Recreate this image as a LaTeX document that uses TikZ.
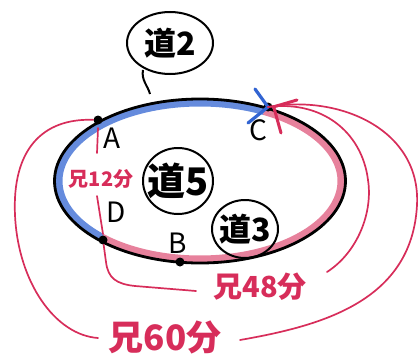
\documentclass[tikz,border=0pt]{standalone}
\usepackage{fontspec}
\newfontfamily\cjk{Noto Sans CJK JP}
\usetikzlibrary{calc}
\definecolor{hblue}{RGB}{50,100,210}
\definecolor{hred}{RGB}{215,45,90}
\begin{document}
\begin{tikzpicture}[x=1pt,y=-1pt,
  dotpt/.style={circle,fill=black,inner sep=0pt,minimum size=9pt},
  letter/.style={font=\cjk\fontsize{28}{28}\selectfont,inner sep=0pt},
  roadtxt/.style={inner sep=0pt},
  redtxt/.style={text=hred,inner sep=0pt},
  redl/.style={hred,line width=1.7pt,line cap=round},
  ring/.style={draw,line width=2pt}]
\useasboundingbox (0,0) rectangle (420,361);
% coloured bands
\draw[hblue,line width=7pt,opacity=0.75] plot[domain=63:226,samples=80] ({200+141*cos(\x)},{181-78*sin(\x)});
\draw[hred,line width=7pt,opacity=0.6] plot[domain=226:423,samples=100] ({200+141*cos(\x)},{181-78*sin(\x)});
% main ellipse
\draw[line width=2.8pt] (200,181) ellipse [x radius=145.5, y radius=82];
% points
\node[dotpt] (A) at (98,120) {};
\node[dotpt] (C) at (268,107) {};
\node[dotpt] (D) at (103,240) {};
\node[dotpt] (B) at (180,262) {};
\node[letter] (lA) at (112,138) {A};
\node[letter] (lC) at (258,130) {C};
\node[letter] (lD) at (116,212) {D};
\node[letter] (lB) at (178,243) {B};
% blue arrow tip at C
\draw[hblue,line width=3.2pt,line cap=round] (C.center) -- (255,89);
\draw[hblue,line width=3.2pt,line cap=round] (C.center) -- (248,123);
% road labels
\node[roadtxt,font=\cjk\bfseries\fontsize{32}{32}\selectfont] (r2) at (170,43) {道2};
\draw[ring] (170,43) ellipse [x radius=43, y radius=31];
\coordinate (t1) at (143,70);
\coordinate (t2) at (150,94);
\draw[line width=2pt] (t1) .. controls (141,80) and (148,86) .. (t2);
\node[roadtxt,font=\cjk\bfseries\fontsize{38}{38}\selectfont] (r5) at (178,181) {道5};
\draw[ring] (r5) ellipse [x radius=35, y radius=33];
\node[roadtxt,font=\cjk\bfseries\fontsize{32}{32}\selectfont] (r3) at (245,229) {道3};
\draw[ring] (r3) ellipse [x radius=33, y radius=29];
% time labels
\node[redtxt,font=\cjk\bfseries\fontsize{20}{20}\selectfont] (l12) at (101,179) {兄12分};
\node[redtxt,font=\cjk\bfseries\fontsize{29}{29}\selectfont] (l48) at (260,287) {兄48分};
\node[redtxt,font=\cjk\bfseries\fontsize{35}{35}\selectfont] (l60) at (165,337) {兄60分};
% 12 min line
\draw[redl] ($(A)+(0,8)$) -- ($(A)+(-1,33)$);
\draw[redl] ($(D)+(-6,-44)$) -- ($(D)+(0,-6)$);
% 48 min path
\coordinate (e48a) at (196,291);
\coordinate (e48b) at (327,272);
\draw[redl] (D) -- (106,262) .. controls (108,278) and (116,284) .. (135,286) -- (e48a);
\draw[redl] (e48b) .. controls (358,252) and (373,212) .. (368,180) .. controls (362,132) and (322,100) .. (C.center);
% 60 min path
\coordinate (e60a) at (98,338);
\coordinate (e60b) at (240,340);
\draw[redl] (A) .. controls (42,118) and (12,150) .. (15,215) .. controls (18,282) and (55,335) .. (e60a);
\draw[redl] (e60b) .. controls (320,326) and (412,302) .. (417,205) .. controls (421,130) and (340,94) .. (C.center);
% red arrow tip at C
\draw[hred,line width=3pt,line cap=round] ($(C)+(5,0)$) -- (297,100);
\draw[hred,line width=3pt,line cap=round] ($(C)+(6,1)$) -- (281,133);
\end{tikzpicture}
\end{document}
